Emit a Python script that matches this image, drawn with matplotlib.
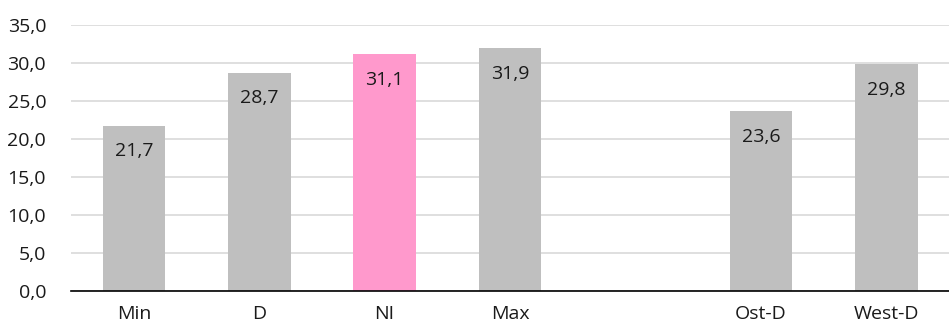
import matplotlib
matplotlib.use("Agg")
import matplotlib.pyplot as plt
import numpy as np

plt.rcParams['font.family'] = ['Open Sans', 'DejaVu Sans']

categories = ["Min", "D", "NI", "Max", "", "Ost-D", "West-D"]
values = [21.7, 28.7, 31.1, 31.9, None, 23.6, 29.8]
colors = ["#BFBFBF", "#BFBFBF", "#FF99CC", "#BFBFBF", None, "#BFBFBF", "#BFBFBF"]
yticks = [0, 5, 10, 15, 20, 25, 30, 35]

fig = plt.figure(figsize=(9.49, 3.24), dpi=100)
ax = fig.add_axes([0.075, 0.102, 0.925, 0.822])

FS = 14
x = np.arange(len(categories))
for xi, v, c in zip(x, values, colors):
    if v is None:
        continue
    ax.bar(xi, v, width=0.5, color=c, zorder=2)
    ax.annotate(f"{v:.1f}".replace(".", ","), xy=(xi, v), xytext=(0, -12),
                textcoords="offset points", ha="center", va="top",
                fontsize=FS, color="#1a1a1a", zorder=3)

ax.set_xlim(-0.5, len(categories) - 0.5)
ax.set_ylim(0, 35)
ax.set_yticks(yticks)
ax.set_yticklabels([f"{t:.1f}".replace(".", ",") for t in yticks], fontsize=FS,
                   color="#1a1a1a")
ax.set_xticks(x)
ax.set_xticklabels(categories, fontsize=FS, color="#1a1a1a")
ax.tick_params(axis="both", length=0)
ax.tick_params(axis="x", pad=10)
ax.tick_params(axis="y", pad=18)
ax.yaxis.grid(True, color="#D9D9D9", linewidth=1.2, zorder=0)
ax.set_axisbelow(True)
for s in ["top", "right", "left"]:
    ax.spines[s].set_visible(False)
ax.spines["bottom"].set_color("#000000")
ax.spines["bottom"].set_linewidth(1.2)
ax.spines["bottom"].set_zorder(4)

fig.savefig("out.png", dpi=100)
